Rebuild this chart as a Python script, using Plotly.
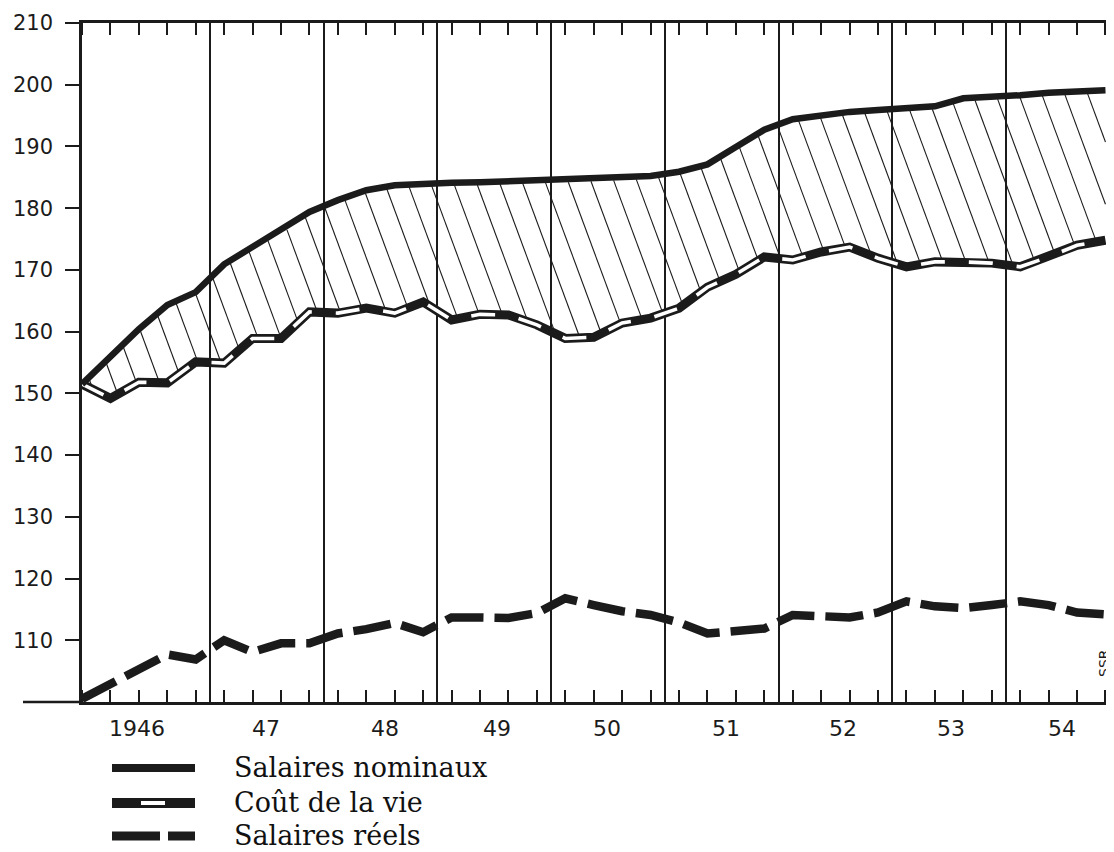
import numpy as np
import plotly.graph_objects as go

# ---------------- data (quarterly indices) ----------------
periods = [(1945, 4)] + [(y, q) for y in range(1946, 1955) for q in range(1, 5)]

nominal = [151.5, 156.0, 160.4, 164.3, 166.4, 170.9, 173.7, 176.3, 179.4, 181.3,
           182.9, 183.7, 184.0, 184.1, 184.2, 184.4, 184.5, 184.6, 184.8, 185.0,
           185.2, 185.9, 187.1, 189.9, 192.7, 194.4, 195.1, 195.6, 195.9, 196.2,
           196.5, 197.8, 198.0, 198.3, 198.7, 198.9, 199.1]

cost = [151.5, 149.2, 151.8, 151.7, 155.1, 154.9, 158.9, 158.9, 163.2, 163.0,
        163.8, 163.0, 164.8, 161.9, 162.8, 162.7, 161.1, 158.9, 159.1, 161.4,
        162.2, 163.8, 167.2, 169.3, 172.1, 171.6, 172.9, 173.7, 171.9, 170.5,
        171.3, 171.3, 171.1, 170.5, 172.1, 174.0, 174.8]

real = [100.5, 103.0, 105.5, 107.7, 106.9, 110.0, 108.1, 109.5, 109.5, 111.1,
        111.8, 112.8, 111.3, 113.7, 113.7, 113.6, 114.4, 116.8, 115.7, 114.7,
        114.1, 112.9, 111.1, 111.6, 111.9, 114.1, 113.8, 113.7, 114.5, 116.3,
        115.5, 115.2, 115.7, 116.3, 115.7, 114.5, 114.2]

year_labels = ["1946", "47", "48", "49", "50", "51", "52", "53", "54"]
label_years = [1946, 1947, 1948, 1949, 1950, 1951, 1952, 1953, 1954]
year_bounds = [1947, 1948, 1949, 1950, 1951, 1952, 1953, 1954]
y_ticks = [110, 120, 130, 140, 150, 160, 170, 180, 190, 200, 210]
legend_names = ["Salaires nominaux", "Coût de la vie", "Salaires réels"]

X = [y + (q - 0.5) / 4 for y, q in periods]

# ---------------- layout constants ----------------
# the page body adds an 8 px offset, so the figure is laid out 8 px smaller
OFF = 8
W, H = 1114 - OFF, 852 - OFF
ML, MR, MT, MB = 82 - OFF, 0, 23 - OFF, 150
XR = [1945.875, 1954.95]
YR = [100, 210]
pw, ph = W - ML - MR, H - MT - MB
px_x = pw / (XR[1] - XR[0])
px_y = ph / (YR[1] - YR[0])
INK = "#1b1b1b"

# label x offsets within the year (layout only)
label_shift = [0.36, 0.49, 0.54, 0.52, 0.49, 0.54, 0.57, 0.52, 0.49]
label_pos = [y + s for y, s in zip(label_years, label_shift)]

# ---------------- hatching between nominal and cost ----------------
slope_px = 0.37      # px to the right per px downward
spacing_px = 23
k = slope_px * px_y / px_x
step = spacing_px / px_x
xs = np.linspace(X[0], X[-1], 8000)
nd = np.interp(xs, X, nominal)
cd = np.interp(xs, X, cost)
hx, hy = [], []
c = X[0] - 1.5
while c < X[-1] + 0.1:
    vl = YR[1] - (xs - c) / k
    m = np.where((vl <= nd - 0.4) & (vl >= cd + 0.4))[0]
    if len(m) > 1:
        a, b = m[0], m[-1]
        hx += [xs[a], xs[b], None]
        hy += [vl[a], vl[b], None]
    c += step

fig = go.Figure()
fig.add_trace(go.Scatter(x=hx, y=hy, mode="lines", line=dict(color=INK, width=1.1),
                         hoverinfo="skip", showlegend=False))
fig.add_trace(go.Scatter(x=X, y=cost, mode="lines", line=dict(color=INK, width=9),
                         name=legend_names[1], showlegend=False))
fig.add_trace(go.Scatter(x=X, y=cost, mode="lines",
                         line=dict(color="white", width=3.6, dash="24px,24px"),
                         hoverinfo="skip", showlegend=False))
fig.add_trace(go.Scatter(x=X, y=nominal, mode="lines", line=dict(color=INK, width=6.5),
                         name=legend_names[0], showlegend=False))
fig.add_trace(go.Scatter(x=X, y=real, mode="lines",
                         line=dict(color=INK, width=8.5, dash="38px,11px"),
                         name=legend_names[2], showlegend=False))
fig.add_trace(go.Scatter(x=[None], y=[None], yaxis="y2", showlegend=False, hoverinfo="skip"))

# ---------------- legend (drawn); helpers take page pixels ----------------
def xp(px):
    return (px - OFF - ML) / pw

def yp(py):
    return (H - MB - (py - OFF)) / ph

shapes = [
    dict(type="line", xref="paper", yref="paper", x0=xp(23), x1=0, y0=0, y1=0,
         line=dict(color=INK, width=2.5)),
    dict(type="line", xref="paper", yref="paper", x0=xp(112), x1=xp(195), y0=yp(768), y1=yp(768),
         line=dict(color=INK, width=8)),
    dict(type="line", xref="paper", yref="paper", x0=xp(112), x1=xp(195), y0=yp(803), y1=yp(803),
         line=dict(color=INK, width=10)),
    dict(type="line", xref="paper", yref="paper", x0=xp(141), x1=xp(165), y0=yp(803), y1=yp(803),
         line=dict(color="white", width=4)),
    dict(type="line", xref="paper", yref="paper", x0=xp(112), x1=xp(160), y0=yp(836), y1=yp(836),
         line=dict(color=INK, width=9)),
    dict(type="line", xref="paper", yref="paper", x0=xp(168), x1=xp(195), y0=yp(836), y1=yp(836),
         line=dict(color=INK, width=9)),
]

annotations = []
for lp, lab in zip(label_pos, year_labels):
    annotations.append(dict(x=lp, xref="x", y=0, yref="paper", yshift=-26, text=lab,
                            showarrow=False, xanchor="center", yanchor="middle",
                            font=dict(family="DejaVu Sans", size=22, color=INK)))
for name, py in zip(legend_names, [767, 802, 835]):
    annotations.append(dict(x=xp(232), xref="paper", y=yp(py), yref="paper", text=name,
                            showarrow=False, xanchor="left", yanchor="middle",
                            font=dict(family="DejaVu Serif", size=27, color="#111")))
annotations.append(dict(x=xp(1104), xref="paper", y=yp(662), yref="paper", text="SSR.",
                        textangle=-90, showarrow=False, xanchor="center", yanchor="middle",
                        font=dict(family="DejaVu Sans", size=14, color=INK)))

fig.update_layout(
    width=W, height=H,
    margin=dict(l=ML, r=MR, t=MT, b=MB, pad=0),
    paper_bgcolor="white", plot_bgcolor="white",
    showlegend=False,
    xaxis=dict(range=XR, tickvals=year_bounds, ticks="", showticklabels=False,
               showgrid=True, gridcolor=INK, gridwidth=1.5, zeroline=False,
               showline=True, linecolor=INK, linewidth=2.5, mirror="allticks",
               minor=dict(tickvals=X, ticks="inside", ticklen=12, tickwidth=1.6,
                          tickcolor=INK, showgrid=False)),
    yaxis=dict(range=YR, tickvals=y_ticks, ticks="outside", ticklen=14, tickwidth=1.6,
               tickcolor=INK, showline=True, linecolor=INK, linewidth=2.5,
               showgrid=False, zeroline=False, ticklabelstandoff=8,
               tickfont=dict(family="DejaVu Sans", size=21, color=INK)),
    yaxis2=dict(range=YR, overlaying="y", side="right", tickvals=y_ticks[:-1],
                ticks="inside", ticklen=7, tickwidth=1.6, tickcolor=INK,
                showticklabels=False, showgrid=False, zeroline=False, showline=False),
    shapes=shapes,
    annotations=annotations,
)

fig.write_html("out.html")
